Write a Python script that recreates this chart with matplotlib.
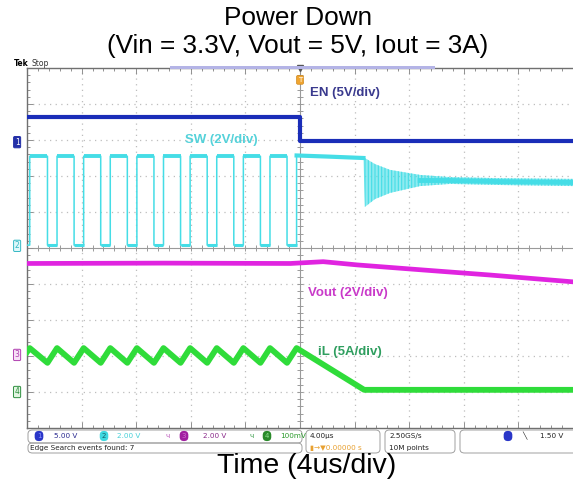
import matplotlib.pyplot as plt
import matplotlib.patches as mpatches
import numpy as np

# time in us (4 us/div, trigger at 0), vertical position in divisions
en_t = [-20, 0, 0, 20]
en_v = [3.65, 3.65, 2.97, 2.97]

sw_rise = [-19.8, -17.8, -15.85, -13.9, -11.95, -10.0, -8.05, -6.1, -4.15, -2.2, -0.25]
sw_fall = [-18.5, -16.55, -14.6, -12.65, -10.7, -8.75, -6.8, -4.85, -2.9, -0.95]
sw_high = 2.55
sw_low = 0.08
sw_hold_t = [-0.25, 2.0, 4.65]
sw_hold_v = [2.57, 2.54, 2.5]
ring_t = [4.65, 4.75, 5.5, 6.6, 8.8, 11.0, 14.6, 20.0]
ring_hi = [2.5, 2.5, 2.33, 2.17, 2.03, 1.97, 1.94, 1.92]
ring_lo = [2.5, 1.14, 1.36, 1.53, 1.72, 1.78, 1.75, 1.72]

vout_t = [-20, -10, -0.7, 1.7, 4.2, 9.0, 13.9, 20]
vout_v = [-0.43, -0.42, -0.43, -0.38, -0.47, -0.61, -0.75, -0.94]

il_start = -2.89
il_peak = -2.78
il_valley = -3.19
il_floor = -3.94
il_zero_t = 4.7

markers = [("1", 2.94), ("2", 0.06), ("3", -2.97), ("4", -4.0)]

W, H = 573, 484
fig = plt.figure(figsize=(W / 100, H / 100), dpi=100)
fig.patch.set_facecolor("white")
plt.rcParams["hatch.linewidth"] = 0.8


def fx(x, y):
    return (x / W, 1 - y / H)


ax = fig.add_axes([27 / W, (H - 428) / H, 546 / W, 360 / H])
ax.set_xlim(-20, 20)
ax.set_ylim(-5, 5)
for s in ["left", "top", "bottom"]:
    ax.spines[s].set_color("#707070")
    ax.spines[s].set_linewidth(1.0)
ax.spines["right"].set_visible(False)
ax.set_xticks(np.arange(-20, 21, 4))
ax.set_xticks(np.arange(-20, 20.1, 0.8), minor=True)
ax.set_yticks(np.arange(-5, 5.1, 1))
ax.set_yticks(np.arange(-5, 5.1, 0.2), minor=True)
ax.set_xticklabels([])
ax.set_yticklabels([])
ax.tick_params(which="both", direction="in", top=True, bottom=True, left=True,
               right=False, color="#909090", width=0.7)
ax.tick_params(which="major", length=4)
ax.tick_params(which="minor", length=2.5)

# graticule
for gx in np.arange(-16, 20, 4):
    if gx != 0:
        ax.axvline(gx, color="#bdbdbd", lw=0.9, ls=(0, (1, 3.5)), zorder=0)
for gy in range(-4, 5):
    if gy != 0:
        ax.axhline(gy, color="#bdbdbd", lw=0.9, ls=(0, (1, 3.5)), zorder=0)
ax.axhline(0, color="#9a9a9a", lw=0.8, zorder=0)
ax.axvline(0, color="#9a9a9a", lw=0.8, zorder=0)
tx = np.arange(-20, 20.1, 0.8)
ty = np.arange(-5, 5.1, 0.2)
ax.plot(tx, np.zeros(len(tx)), ls="none", marker="|", ms=4, color="#9a9a9a", mew=0.7, zorder=0)
ax.plot(np.zeros(len(ty)), ty, ls="none", marker="_", ms=4, color="#9a9a9a", mew=0.7, zorder=0)

# EN
ax.plot(en_t, en_v, color="#1a2db8", lw=3.0, solid_capstyle="butt", zorder=5)

# SW switching
cyan = "#45dde6"
edges = sorted([(t, sw_high) for t in sw_rise] + [(t, sw_low) for t in sw_fall])
sx, sy = [-20], [sw_low]
lvl = sw_low
for t, new in edges:
    sx += [t, t]
    sy += [lvl, new]
    lvl = new
sx += sw_hold_t[1:]
sy += sw_hold_v[1:]
ax.plot(sx, sy, color=cyan, lw=1.1, zorder=4)
for i, t in enumerate(sw_fall):
    ax.plot([sw_rise[i], t], [sw_high, sw_high], color=cyan, lw=2.8, solid_capstyle="butt", zorder=4)
    ax.plot([t, sw_rise[i + 1]], [sw_low, sw_low], color=cyan, lw=2.2, solid_capstyle="butt", zorder=4)
ax.plot(sw_hold_t, sw_hold_v, color=cyan, lw=3.0, zorder=4)
ax.fill_between(ring_t, ring_lo, ring_hi, facecolor=(0.27, 0.87, 0.9, 0.6), edgecolor=cyan,
                hatch="|||||", lw=0, zorder=4)
ax.plot(ring_t[4:], [(a + b) / 2 for a, b in zip(ring_hi[4:], ring_lo[4:])], color=cyan, lw=3.5, zorder=4)

# Vout
ax.plot(vout_t, vout_v, color="#e024e0", lw=3.4, zorder=4)

# iL
edges_il = sorted([(t, il_peak) for t in sw_rise] + [(t, il_valley) for t in sw_fall])
ix = [-20] + [e[0] for e in edges_il] + [il_zero_t, 20]
iy = [il_start] + [e[1] for e in edges_il] + [il_floor, il_floor]
ax.plot(ix, iy, color="#2fdc3a", lw=4.2, zorder=4)

# trace labels
lab = dict(fontsize=9.5, fontweight="bold", family="Liberation Sans", va="center", ha="left")
ax.text(0.75, 4.3, "EN (5V/div)", color="#3a3a8e", **lab)
ax.text(-8.4, 3.0, "SW (2V/div)", color="#55d2da", **lab)
ax.text(0.6, -1.25, "Vout (2V/div)", color="#c93ac9", **lab)
ax.text(1.3, -2.9, "iL (5A/div)", color="#2f9e5f", **lab)

# channel markers on the left edge
mcol = {"1": ("#2430a8", "#2430a8", "#ffffff"), "2": ("#dff8fa", "#35b8c4", "#35b8c4"),
        "3": ("#f6e0f6", "#b040b0", "#b040b0"), "4": ("#e2f6e2", "#2f9040", "#2f9040")}
for num, y in markers:
    fc, ec, tc = mcol[num]
    ax.text(-20.55, y, num, fontsize=5.5, ha="right", va="center", color=tc, clip_on=False,
            bbox=dict(boxstyle="round,pad=0.15", fc=fc, ec=ec, lw=0.7))

# trigger marker at top
ax.plot([0], [5.0], marker="v", ms=5, color="#555555", clip_on=False, zorder=6)
ax.text(0, 4.67, "T", fontsize=5, ha="center", va="center", color="#ffffff", clip_on=False, zorder=6,
        bbox=dict(boxstyle="round,pad=0.2", fc="#f0a530", ec="#d08a20", lw=0.5))

# scope header
fig.add_artist(mpatches.Rectangle(fx(170, 69), 265 / W, 3 / H, color="#b4b4e6", lw=0))
fig.text(*fx(14, 64), "Tek", fontsize=5.5, fontweight="bold", ha="left", va="center")
fig.text(*fx(31, 64), "Stop", fontsize=5.5, ha="left", va="center", color="#333333")

# status bar
small = dict(fontsize=5.2, va="center", ha="left", family="DejaVu Sans")


def box(x0, y0, x1, y1):
    fig.add_artist(mpatches.FancyBboxPatch(fx(x0, y1), (x1 - x0) / W, (y1 - y0) / H,
                                           boxstyle="round,pad=0,rounding_size=0.008",
                                           fc="none", ec="#a0a0a0", lw=0.7))


box(28, 430, 302, 443)
box(28, 443, 302, 453)
box(306, 430, 380, 453)
box(385, 430, 455, 453)
box(460, 430, 580, 453)


def chip(x, y, num, fc, tc):
    fig.text(*fx(x, y), num, fontsize=5, ha="center", va="center", color=tc,
             bbox=dict(boxstyle="round,pad=0.3,rounding_size=0.6", fc=fc, ec="none"))


chip(39, 436, "1", "#2a36c8", "#8890ff")
fig.text(*fx(54, 436), "5.00 V", color="#2a2a90", **small)
chip(104, 436, "2", "#40d8e0", "#16606a")
fig.text(*fx(117, 436), "2.00 V", color="#48d0d8", **small)
fig.text(*fx(166, 436), "\u0447", color="#c060c0", **small)
chip(184, 436, "3", "#a020a0", "#d070d0")
fig.text(*fx(203, 436), "2.00 V", color="#8a2a8a", **small)
fig.text(*fx(250, 436), "\u0447", color="#40a050", **small)
chip(267, 436, "4", "#2a8a2a", "#90e090")
fig.text(*fx(280, 436), "100mV", color="#2a9a2a", **small)
fig.text(*fx(30, 448), "Edge Search events found: 7", color="#222222", **small)
fig.text(*fx(310, 436), "4.00\u03bcs", color="#222222", **small)
fig.text(*fx(310, 448), "\u25ae\u2192\u25bc0.00000 s", color="#e8a030", **small)
fig.text(*fx(389, 436), "2.50GS/s", color="#222222", **small)
fig.text(*fx(389, 448), "10M points", color="#222222", **small)
chip(508, 436, "1", "#2a36c8", "#2a36c8")
fig.text(*fx(522, 436), "\u2572", color="#222222", **small)
fig.text(*fx(540, 436), "1.50 V", color="#222222", **small)

# titles
tf = dict(family="Liberation Sans", ha="center", va="center", color="black")
fig.text(*fx(298, 18), "Power Down", fontsize=18.8, **tf)
fig.text(*fx(298, 46), "(Vin = 3.3V, Vout = 5V, Iout = 3A)", fontsize=18.8, **tf)
fig.text(*fx(307, 466), "Time (4us/div)", fontsize=20.5, **tf)

fig.savefig("out.png", dpi=100)
